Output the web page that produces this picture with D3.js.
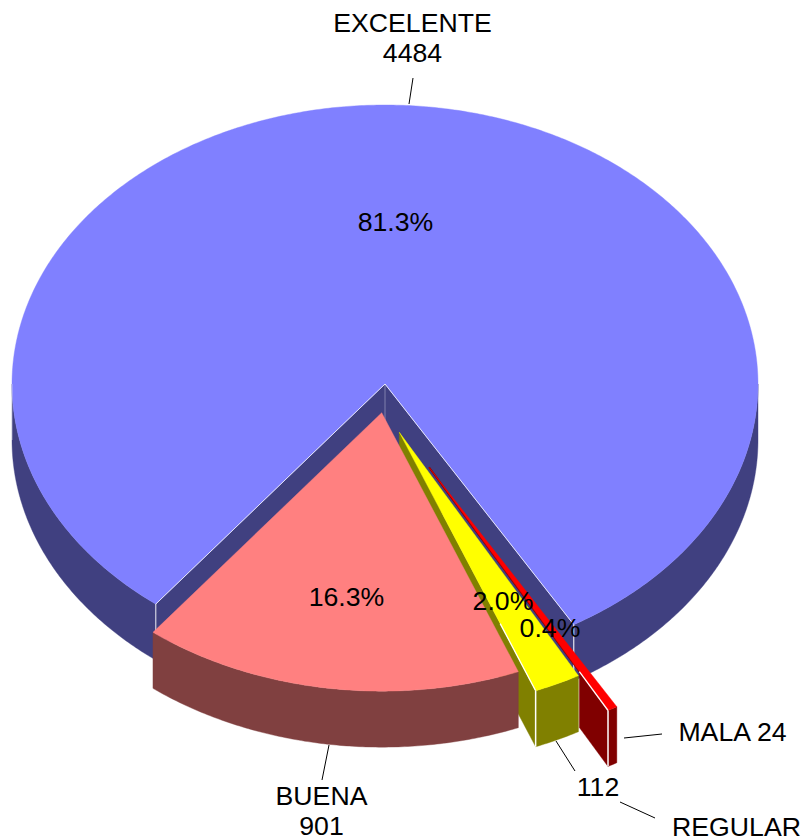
<!DOCTYPE html>
<html><head><meta charset="utf-8">
<script src="https://cdn.jsdelivr.net/npm/d3@7"></script>
<style>html,body{margin:0;padding:0;background:#fff}svg{display:block}text{font-family:"Liberation Sans",Arial,sans-serif;font-size:26.67px;fill:#000}</style>
</head><body><svg id="c" width="803" height="840"></svg>
<script>
// data (clockwise from the start angle)
const categories = ["MALA", "REGULAR", "BUENA", "EXCELENTE"];
const values = [24, 112, 901, 4484];
const percentLabels = ["0.4%", "2.0%", "16.3%", "81.3%"];
const topColors = ["#FF0000", "#FFFF00", "#FF8080", "#8080FF"];
const sideColors = ["#800000", "#808000", "#804040", "#404080"];

// layout
const W = 803, H = 840, cx = 385, cy = 384, rx = 373, ry = 279, depth = 56;
const startDeg = 149.6;
const explode = [[0.118, 0.2986], [0.0383, 0.1731], [-0.0088, 0.1029], [0, 0]];
const wedgeR = [0.995, 0.996, 0.998, 1];
const notchSkew = 0.7; // the rim corners of the notch sit slightly further round
const pctPos = [[550, 637], [503, 610], [346.5, 606], [395.5, 231]];
const rad = d => d * Math.PI / 180;

const svg = d3.select("#c");
const sx = d3.scaleLinear().domain([-1, 1]).range([cx - rx, cx + rx]);
const sy = d3.scaleLinear().domain([-1, 1]).range([cy + ry, cy - ry]);
const line = d3.line().x(d => d[0]).y(d => d[1]);
const pie = d3.pie().sort(null).value(d => d).startAngle(rad(startDeg)).endAngle(rad(startDeg) + 2 * Math.PI);
const arcs = pie(values);
arcs[2].endAngle += rad(notchSkew);
arcs[3].startAngle += rad(notchSkew);

const pt = (a, ex, r = 1) => [sx(r * Math.sin(a) + ex[0]), sy(r * Math.cos(a) - ex[1])];
const samples = (a0, a1) => { const n = Math.max(2, Math.ceil((a1 - a0) / rad(0.5))); return d3.range(n + 1).map(i => a0 + (a1 - a0) * i / n); };
const down = p => [p[0], p[1] + depth];
const mix = (a, b, t) => [a[0] + (b[0] - a[0]) * t, a[1] + (b[1] - a[1]) * t];
const poly = (pts, fill) => svg.append("path").attr("d", line(pts) + "Z").attr("fill", fill).attr("stroke", fill).attr("stroke-width", 0.4);
const seg = (a, b, color, w, op) => svg.append("path").attr("d", line([a, b])).attr("stroke", color).attr("stroke-width", w).attr("stroke-opacity", op).attr("fill", "none");

function outerWall(a0, a1, ex, r, fill) {
  const top = samples(a0, a1).map(a => pt(a, ex, r));
  poly(top.concat(top.map(down).reverse()), fill);
}
function topFace(d, i) {
  const ex = explode[i];
  poly([pt(0, ex, 0)].concat(samples(d.startAngle, d.endAngle).map(a => pt(a, ex, wedgeR[i]))), topColors[i]);
}

// EXCELENTE: walls of the notch and the rim, then the top
const e = arcs[3], eEx = explode[3];
const ctr = pt(0, eEx, 0), eA = pt(e.startAngle, eEx), eB = pt(e.endAngle, eEx);
poly([ctr, eA, down(eA), down(ctr)], sideColors[3]);
poly([ctr, eB, down(eB), down(ctr)], sideColors[3]);
outerWall(e.startAngle, rad(270), eEx, 1, sideColors[3]);
outerWall(rad(450), e.endAngle, eEx, 1, sideColors[3]);
topFace(e, 3);
seg(ctr, eA, "#fff", 1, 0.8);
seg(ctr, eB, "#fff", 1, 0.8);
seg(ctr, down(ctr), "#fff", 1, 0.35);
seg(eA, down(eA), "#fff", 1.2, 0.75);
seg(eB, down(eB), "#fff", 1.2, 0.85);
seg(pt(rad(270), eEx), down(pt(rad(270), eEx)), "#fff", 1, 0.45);

// MALA
{
  const d = arcs[0], ex = explode[0], r = wedgeR[0];
  const apex = pt(0, ex, 0), c = pt(d.endAngle, ex, r), from = mix(apex, c, 0.84);
  seg(apex, from, sideColors[0], 1.8, 1);
  poly([from, c, down(c), down(from)], sideColors[0]);
  outerWall(d.startAngle, d.endAngle, ex, r, sideColors[0]);
  topFace(d, 0);
  seg(from, c, "#fff", 1.3, 1);
  seg(c, down(c), "#fff", 1.5, 1);
}
// REGULAR
{
  const d = arcs[1], ex = explode[1], r = wedgeR[1];
  const apex = pt(0, ex, 0), c = pt(d.endAngle, ex, r);
  poly([apex, c, down(c), down(apex)], sideColors[1]);
  outerWall(d.startAngle, d.endAngle, ex, r, sideColors[1]);
  topFace(d, 1);
  seg(mix(apex, c, 0.74), c, "#fff", 1.3, 1);
  seg(c, down(c), "#fff", 1.5, 1);
}
// BUENA
outerWall(arcs[2].startAngle, arcs[2].endAngle, explode[2], wedgeR[2], sideColors[2]);
topFace(arcs[2], 2);

// percent labels
percentLabels.forEach((t, i) => svg.append("text").attr("x", pctPos[i][0]).attr("y", pctPos[i][1]).attr("text-anchor", "middle").text(t));

// category labels and leaders
const labelTexts = [
  [412.5, 32, categories[3]], [412.5, 62, String(values[3])],
  [321.5, 804.5, categories[2]], [321.5, 835, String(values[2])],
  [598, 796, String(values[1])], [736.5, 835.5, categories[1]],
  [732.5, 741, categories[0] + " " + values[0]]
];
labelTexts.forEach(l => svg.append("text").attr("x", l[0]).attr("y", l[1]).attr("text-anchor", "middle").text(l[2]));
const leaders = [
  [[413, 78], [409, 104]], [[329, 745], [322, 780]],
  [[556, 741], [575, 771]], [[620, 802], [655, 818]], [[624, 738], [662, 734]]
];
leaders.forEach(l => seg(l[0], l[1], "#000", 1, 1));
</script></body></html>
